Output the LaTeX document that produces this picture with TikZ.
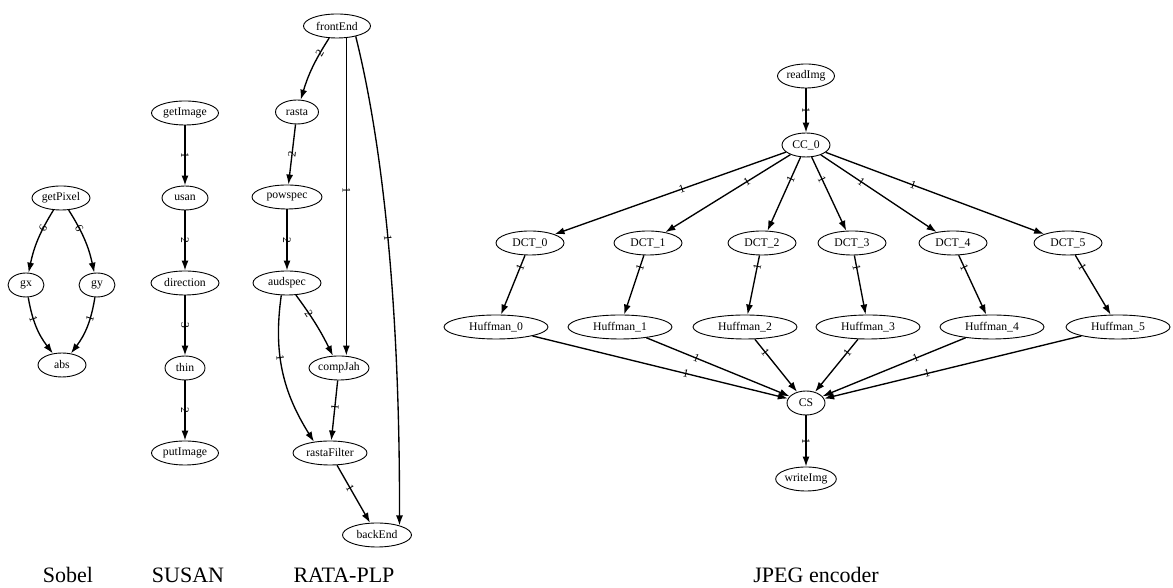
\documentclass[tikz,border=0pt]{standalone}
\usepackage{fontspec}
\setmainfont{Liberation Serif}
\usetikzlibrary{shapes.geometric,arrows.meta}
\begin{document}
\begin{tikzpicture}[x=1pt,y=1pt,
  vtx/.style={ellipse, draw, line width=0.9pt, inner sep=0pt,
              minimum height=24pt, minimum width=#1,
              font=\fontsize{11.7}{13}\selectfont},
  vtx/.default=60pt,
  conn/.style={line width=1.35pt, -{Latex[length=10pt,width=7pt]}},
  lab/.style={sloped, inner sep=0pt, font=\fontsize{11.5}{12}\selectfont},
  grouptitle/.style={anchor=base, font=\fontsize{22}{24}\selectfont}]
\useasboundingbox (0,0) rectangle (1173,588);

% ---------------- Sobel ----------------
\node[vtx=58pt] (getPixel) at (61,390) {getPixel};
\node[vtx=36pt] (gx) at (26,303) {gx};
\node[vtx=36pt] (gy) at (97,303) {gy};
\node[vtx=48pt] (abs) at (62,223) {abs};
\draw[conn] (getPixel) to[bend right=10] node[lab,pos=0.3]{6} (gx);
\draw[conn] (getPixel) to[bend left=10] node[lab,pos=0.3]{6} (gy);
\draw[conn] (gx) to[bend right=14] node[lab,pos=0.35]{1} (abs);
\draw[conn] (gy) to[bend left=14] node[lab,pos=0.35]{1} (abs);

% ---------------- SUSAN ----------------
\node[vtx=67pt] (getImage) at (185,475) {getImage};
\node[vtx=46pt] (usan) at (185,390) {usan};
\node[vtx=68pt] (direction) at (185,305) {direction};
\node[vtx=40pt] (thin) at (185,220) {thin};
\node[vtx=67pt] (putImage) at (185,135) {putImage};
\draw[conn] (getImage) -- node[lab]{1} (usan);
\draw[conn] (usan) -- node[lab]{2} (direction);
\draw[conn] (direction) -- node[lab]{3} (thin);
\draw[conn] (thin) -- node[lab]{2} (putImage);

% ---------------- RATA-PLP ----------------
\node[vtx=67pt] (frontEnd) at (337,562) {frontEnd};
\node[vtx=43pt] (rasta) at (297,476) {rasta};
\node[vtx=70pt] (powspec) at (287,391) {powspec};
\node[vtx=68pt] (audspec) at (287,305) {audspec};
\node[vtx=60pt] (compJah) at (339,220) {compJah};
\node[vtx=74pt] (rastaFilter) at (330,135) {rastaFilter};
\node[vtx=69pt] (backEnd) at (377,53) {backEnd};
\draw[conn] (frontEnd) to[bend right=8] node[lab,pos=0.25]{2} (rasta);
\draw[conn] (rasta) -- node[lab]{2} (powspec);
\draw[conn] (powspec) -- node[lab]{2} (audspec);
\draw[conn] (audspec) to[bend left=5] node[lab,pos=0.3]{2} (compJah);
\draw[conn] (audspec.245) to[out=262, in=122] node[lab,pos=0.4]{1} (rastaFilter.145);
\draw[conn] (frontEnd.308) -- node[lab,pos=0.48]{1} (frontEnd.308 |- compJah.north);
\draw[conn] (frontEnd.331) .. controls (386,430) and (400,260) .. (backEnd.23)
  node[lab,pos=0.47]{1};
\draw[conn] (compJah) -- node[lab,pos=0.45]{1} (rastaFilter);
\draw[conn] (rastaFilter) -- node[lab,pos=0.4]{1} (backEnd);

% ---------------- JPEG encoder ----------------
\node[vtx=57pt] (readImg) at (806,512) {readImg};
\node[vtx=48pt] (CC0) at (806,443) {CC\_0};
\node[vtx=68pt] (DCT0) at (530,345) {DCT\_0};
\node[vtx=68pt] (DCT1) at (648,345) {DCT\_1};
\node[vtx=68pt] (DCT2) at (762,345) {DCT\_2};
\node[vtx=68pt] (DCT3) at (852,345) {DCT\_3};
\node[vtx=68pt] (DCT4) at (953,345) {DCT\_4};
\node[vtx=68pt] (DCT5) at (1068,345) {DCT\_5};
\node[vtx=104pt] (H0) at (496,261) {Huffman\_0};
\node[vtx=104pt] (H1) at (620,261) {Huffman\_1};
\node[vtx=104pt] (H2) at (745,261) {Huffman\_2};
\node[vtx=104pt] (H3) at (868,261) {Huffman\_3};
\node[vtx=104pt] (H4) at (992,261) {Huffman\_4};
\node[vtx=104pt] (H5) at (1118,261) {Huffman\_5};
\node[vtx=38pt] (CS) at (806,185) {CS};
\node[vtx=59pt] (writeImg) at (806,109) {writeImg};

\draw[conn] (readImg) -- node[lab]{1} (CC0);
\draw[conn] (CC0) -- node[lab,pos=0.45]{1} (DCT0);
\draw[conn] (CC0) -- node[lab,pos=0.35]{1} (DCT1);
\draw[conn] (CC0) -- node[lab,pos=0.3]{1} (DCT2);
\draw[conn] (CC0) -- node[lab,pos=0.3]{1} (DCT3);
\draw[conn] (CC0) -- node[lab,pos=0.35]{1} (DCT4);
\draw[conn] (CC0) -- node[lab,pos=0.4]{1} (DCT5);
\draw[conn] (DCT0) -- node[lab,pos=0.2]{1} (H0);
\draw[conn] (DCT1) -- node[lab,pos=0.2]{1} (H1);
\draw[conn] (DCT2) -- node[lab,pos=0.2]{1} (H2);
\draw[conn] (DCT3) -- node[lab,pos=0.2]{1} (H3);
\draw[conn] (DCT4) -- node[lab,pos=0.2]{1} (H4);
\draw[conn] (DCT5) -- node[lab,pos=0.2]{1} (H5);
\draw[conn] (H0) -- node[lab,pos=0.6]{1} (CS);
\draw[conn] (H1) -- node[lab,pos=0.35]{1} (CS);
\draw[conn] (H2) -- node[lab,pos=0.25]{1} (CS);
\draw[conn] (H3) -- node[lab,pos=0.25]{1} (CS);
\draw[conn] (H4) -- node[lab,pos=0.35]{1} (CS);
\draw[conn] (H5) -- node[lab,pos=0.6]{1} (CS);
\draw[conn] (CS) -- node[lab]{1} (writeImg);

% ---------------- group titles ----------------
\node[grouptitle] (tSobel) at (68,5) {Sobel};
\node[grouptitle] (tSusan) at (188,5) {SUSAN};
\node[grouptitle] (tRata) at (344,5) {RATA-PLP};
\node[grouptitle] (tJpeg) at (816,5) {JPEG encoder};
\end{tikzpicture}
\end{document}
